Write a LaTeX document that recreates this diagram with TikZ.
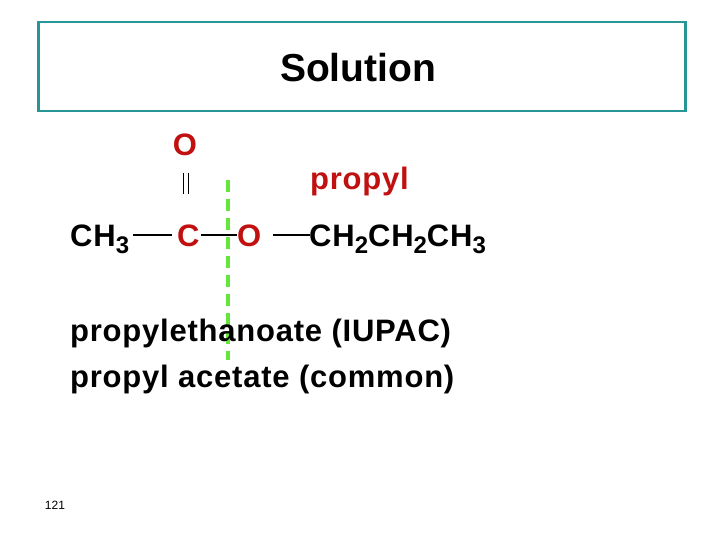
\documentclass[tikz,border=0pt]{standalone}
\usepackage{fontspec}
\setmainfont{Liberation Sans}
\newfontfamily\spaced[LetterSpace=2.5]{Liberation Sans}
\definecolor{chemred}{RGB}{192,16,16}
\definecolor{frameteal}{RGB}{40,150,150}
\definecolor{cutgreen}{RGB}{100,230,60}
\newcommand{\chsub}[1]{\raisebox{-0.25em}{\fontsize{24}{24}\selectfont\bfseries #1}}
\begin{document}
\begin{tikzpicture}[x=1pt,y=-1pt,
  big/.style={font=\fontsize{31}{34}\spaced\bfseries, inner sep=0pt, anchor=base west},
  bondline/.style={line width=2.4pt}]
\useasboundingbox (0,0) rectangle (720,540);
\node[draw=frameteal, line width=2.5pt, minimum width=647pt, minimum height=89pt, anchor=north west] (frame) at (37,21) {};
\node[font=\fontsize{39}{42}\bfseries, inner sep=0pt] (title) at (358,68) {Solution};
\node[big, text=chemred, anchor=base] (otop) at (185,156) {O};
\draw[line width=0.6pt] (183.5,173) -- (183.5,194) (188.5,173) -- (188.5,194);
\node[big, text=chemred] (propyl) at (310,190) {propyl};
\node[big] (ch3) at (70,246) {CH\chsub{3}};
\node[big, text=chemred] (c) at (177,246) {C};
\node[big, text=chemred] (o) at (237,246) {O};
\node[big] (chain) at (309,246) {CH\chsub{2}CH\chsub{2}CH\chsub{3}};
\draw[bondline] (133,235) -- ([xshift=-5pt]c.west |- 0,235);
\draw[bondline] ([xshift=1pt]c.east |- 0,235) -- (o.west |- 0,235);
\draw[bondline] (273,235) -- ([xshift=1pt]chain.west |- 0,235);
\coordinate (cuttop) at (228,180);
\coordinate (cutbot) at (228,360);
\draw[cutgreen, line width=3.5pt, dash pattern=on 12pt off 7pt] (cuttop) -- (cutbot);
\node[big] (iupac) at (70,341) {propylethanoate (IUPAC)};
\node[big] (common) at (70,387) {propyl acetate (common)};
\node[font=\fontsize{12}{14}\selectfont, inner sep=0pt] (num) at (55,505) {121};
\end{tikzpicture}
\end{document}
